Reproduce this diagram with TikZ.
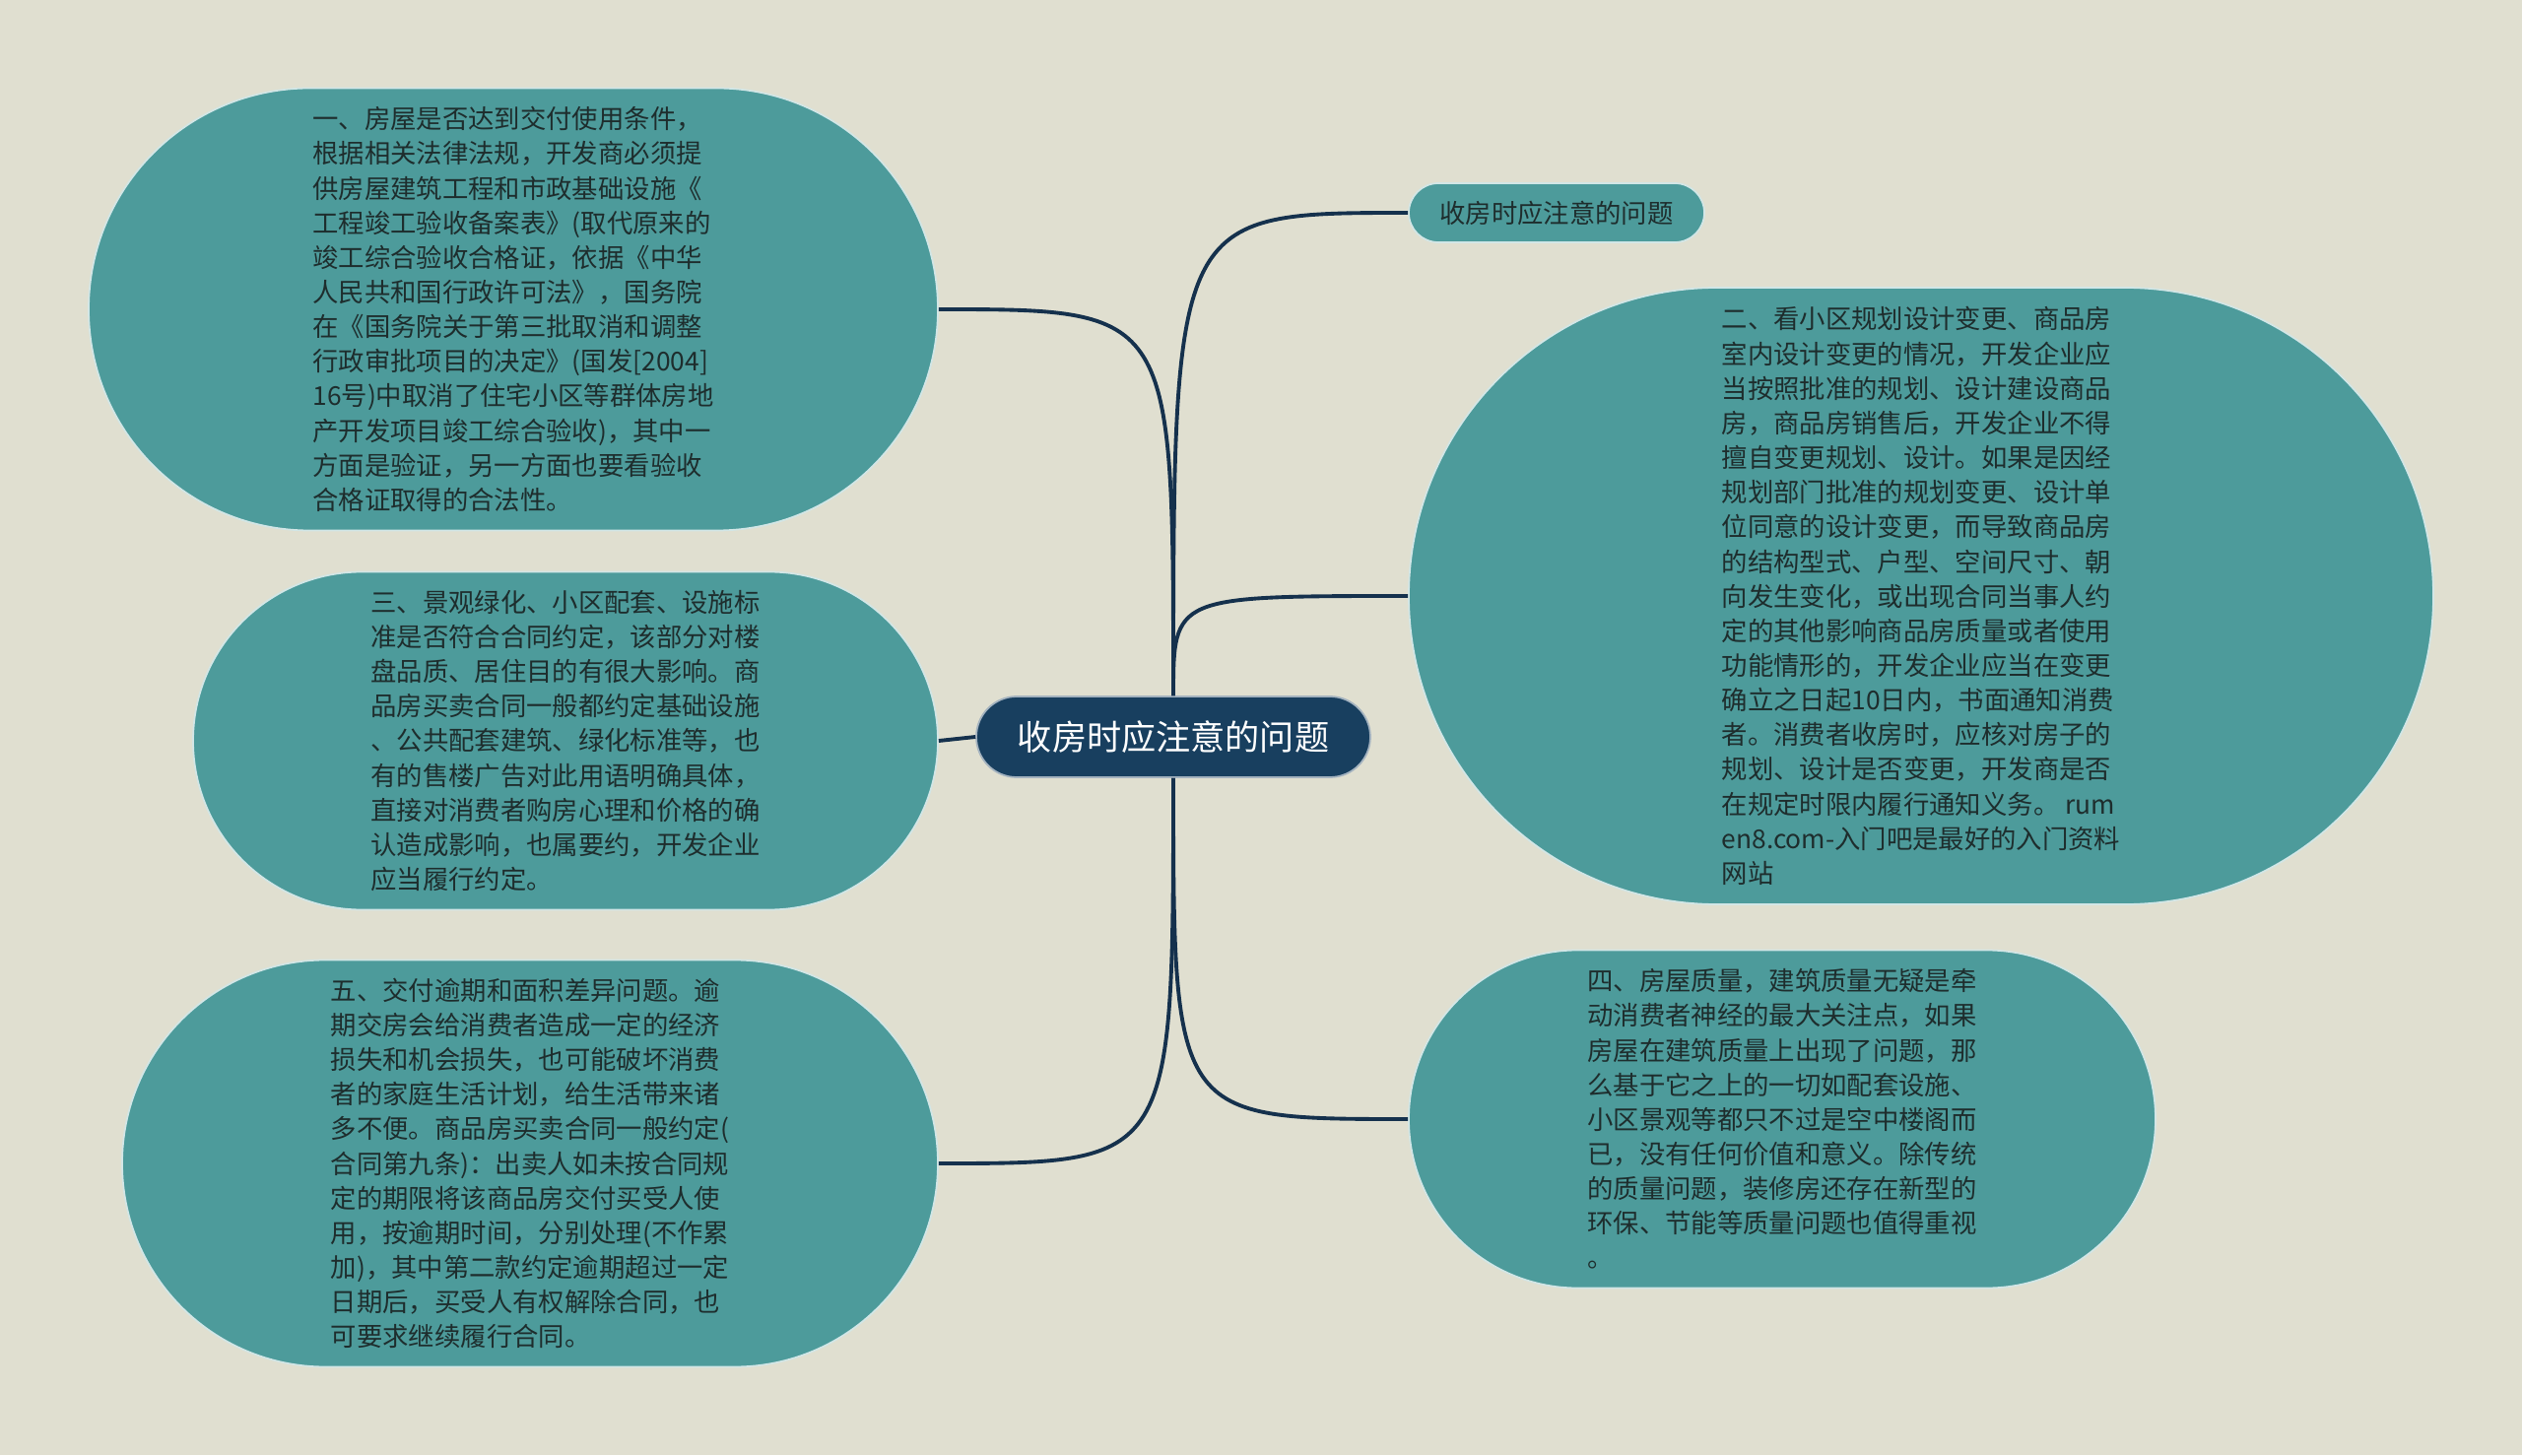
\documentclass[tikz,border=0pt]{standalone}
\usepackage{fontspec}
\setmainfont{Noto Sans CJK SC}
\usepackage{xcolor}
\usepackage{tikz}

\definecolor{paper}{HTML}{E0DFD0}
\definecolor{leaf}{HTML}{4D9B9B}
\definecolor{root}{HTML}{183F5F}
\definecolor{branch}{HTML}{15314D}
\definecolor{ink}{HTML}{1E2D2D}

\begin{document}
\begin{tikzpicture}[
    leafbox/.style={fill=leaf, draw=white!75!leaf, line width=0.5pt, align=left,
        text=ink, font=\fontsize{7.5}{10}\selectfont, inner sep=0pt},
    rootbox/.style={fill=root, draw=white!60!root, line width=0.5pt, text=white,
        font=\fontsize{10}{12}\selectfont, minimum width=4cm, minimum height=0.82cm,
        rounded corners=0.41cm},
    link/.style={draw=branch, line width=1.1pt}
]
        % Background
        \fill[paper] (0,0) rectangle (25.6,14.77);
        \useasboundingbox (0,0) rectangle (25.6,14.77);

        % Root
        \node[rootbox] (c) at (11.91,7.29) {收房时应注意的问题};

        % Right side
        \node[leafbox, minimum width=3cm, minimum height=0.6cm, rounded corners=0.3cm] (t) at (15.80,12.61) {收房时应注意的问题};

        \node[leafbox, minimum width=10.4cm, minimum height=6.26cm, rounded corners=3.13cm] (n2) at (19.50,8.72) {二、看小区规划设计变更、商品房\\室内设计变更的情况，开发企业应\\当按照批准的规划、设计建设商品\\房，商品房销售后，开发企业不得\\擅自变更规划、设计。如果是因经\\规划部门批准的规划变更、设计单\\位同意的设计变更，而导致商品房\\的结构型式、户型、空间尺寸、朝\\向发生变化，或出现合同当事人约\\定的其他影响商品房质量或者使用\\功能情形的，开发企业应当在变更\\确立之日起10日内，书面通知消费\\者。消费者收房时，应核对房子的\\规划、设计是否变更，开发商是否\\在规定时限内履行通知义务。 rum\\en8.com-入门吧是最好的入门资料\\网站};

        \node[leafbox, minimum width=7.58cm, minimum height=3.43cm, rounded corners=1.715cm] (n4) at (18.09,3.41) {四、房屋质量，建筑质量无疑是牵\\动消费者神经的最大关注点，如果\\房屋在建筑质量上出现了问题，那\\么基于它之上的一切如配套设施、\\小区景观等都只不过是空中楼阁而\\已，没有任何价值和意义。除传统\\的质量问题，装修房还存在新型的\\环保、节能等质量问题也值得重视\\。};

        % Left side
        \node[leafbox, minimum width=8.62cm, minimum height=4.49cm, rounded corners=2.245cm] (n1) at (5.21,11.63) {一、房屋是否达到交付使用条件，\\根据相关法律法规，开发商必须提\\供房屋建筑工程和市政基础设施《\\工程竣工验收备案表》(取代原来的\\竣工综合验收合格证，依据《中华\\人民共和国行政许可法》，国务院\\在《国务院关于第三批取消和调整\\行政审批项目的决定》(国发[2004]\\16号)中取消了住宅小区等群体房地\\产开发项目竣工综合验收)，其中一\\方面是验证，另一方面也要看验收\\合格证取得的合法性。};

        \node[leafbox, minimum width=7.56cm, minimum height=3.43cm, rounded corners=1.715cm] (n3) at (5.74,7.25) {三、景观绿化、小区配套、设施标\\准是否符合合同约定，该部分对楼\\盘品质、居住目的有很大影响。商\\品房买卖合同一般都约定基础设施\\、公共配套建筑、绿化标准等，也\\有的售楼广告对此用语明确具体，\\直接对消费者购房心理和价格的确\\认造成影响，也属要约，开发企业\\应当履行约定。};

        \node[leafbox, minimum width=8.28cm, minimum height=4.13cm, rounded corners=2.065cm] (n5) at (5.38,2.96) {五、交付逾期和面积差异问题。逾\\期交房会给消费者造成一定的经济\\损失和机会损失，也可能破坏消费\\者的家庭生活计划，给生活带来诸\\多不便。商品房买卖合同一般约定(\\合同第九条)：出卖人如未按合同规\\定的期限将该商品房交付买受人使\\用，按逾期时间，分别处理(不作累\\加)，其中第二款约定逾期超过一定\\日期后，买受人有权解除合同，也\\可要求继续履行合同。};

        % Links
        \draw[link] (c.north) .. controls (c.north |- t.west) .. (t.west);
        \draw[link] (c.north) .. controls (c.north |- n2.west) .. (n2.west);
        \draw[link] (c.south) .. controls (c.south |- n4.west) .. (n4.west);
        \draw[link] (c.north) .. controls (c.north |- n1.east) .. (n1.east);
        \draw[link] (c.west) -- (n3.east);
        \draw[link] (c.south) .. controls (c.south |- n5.east) .. (n5.east);
    \end{tikzpicture}
\end{document}
